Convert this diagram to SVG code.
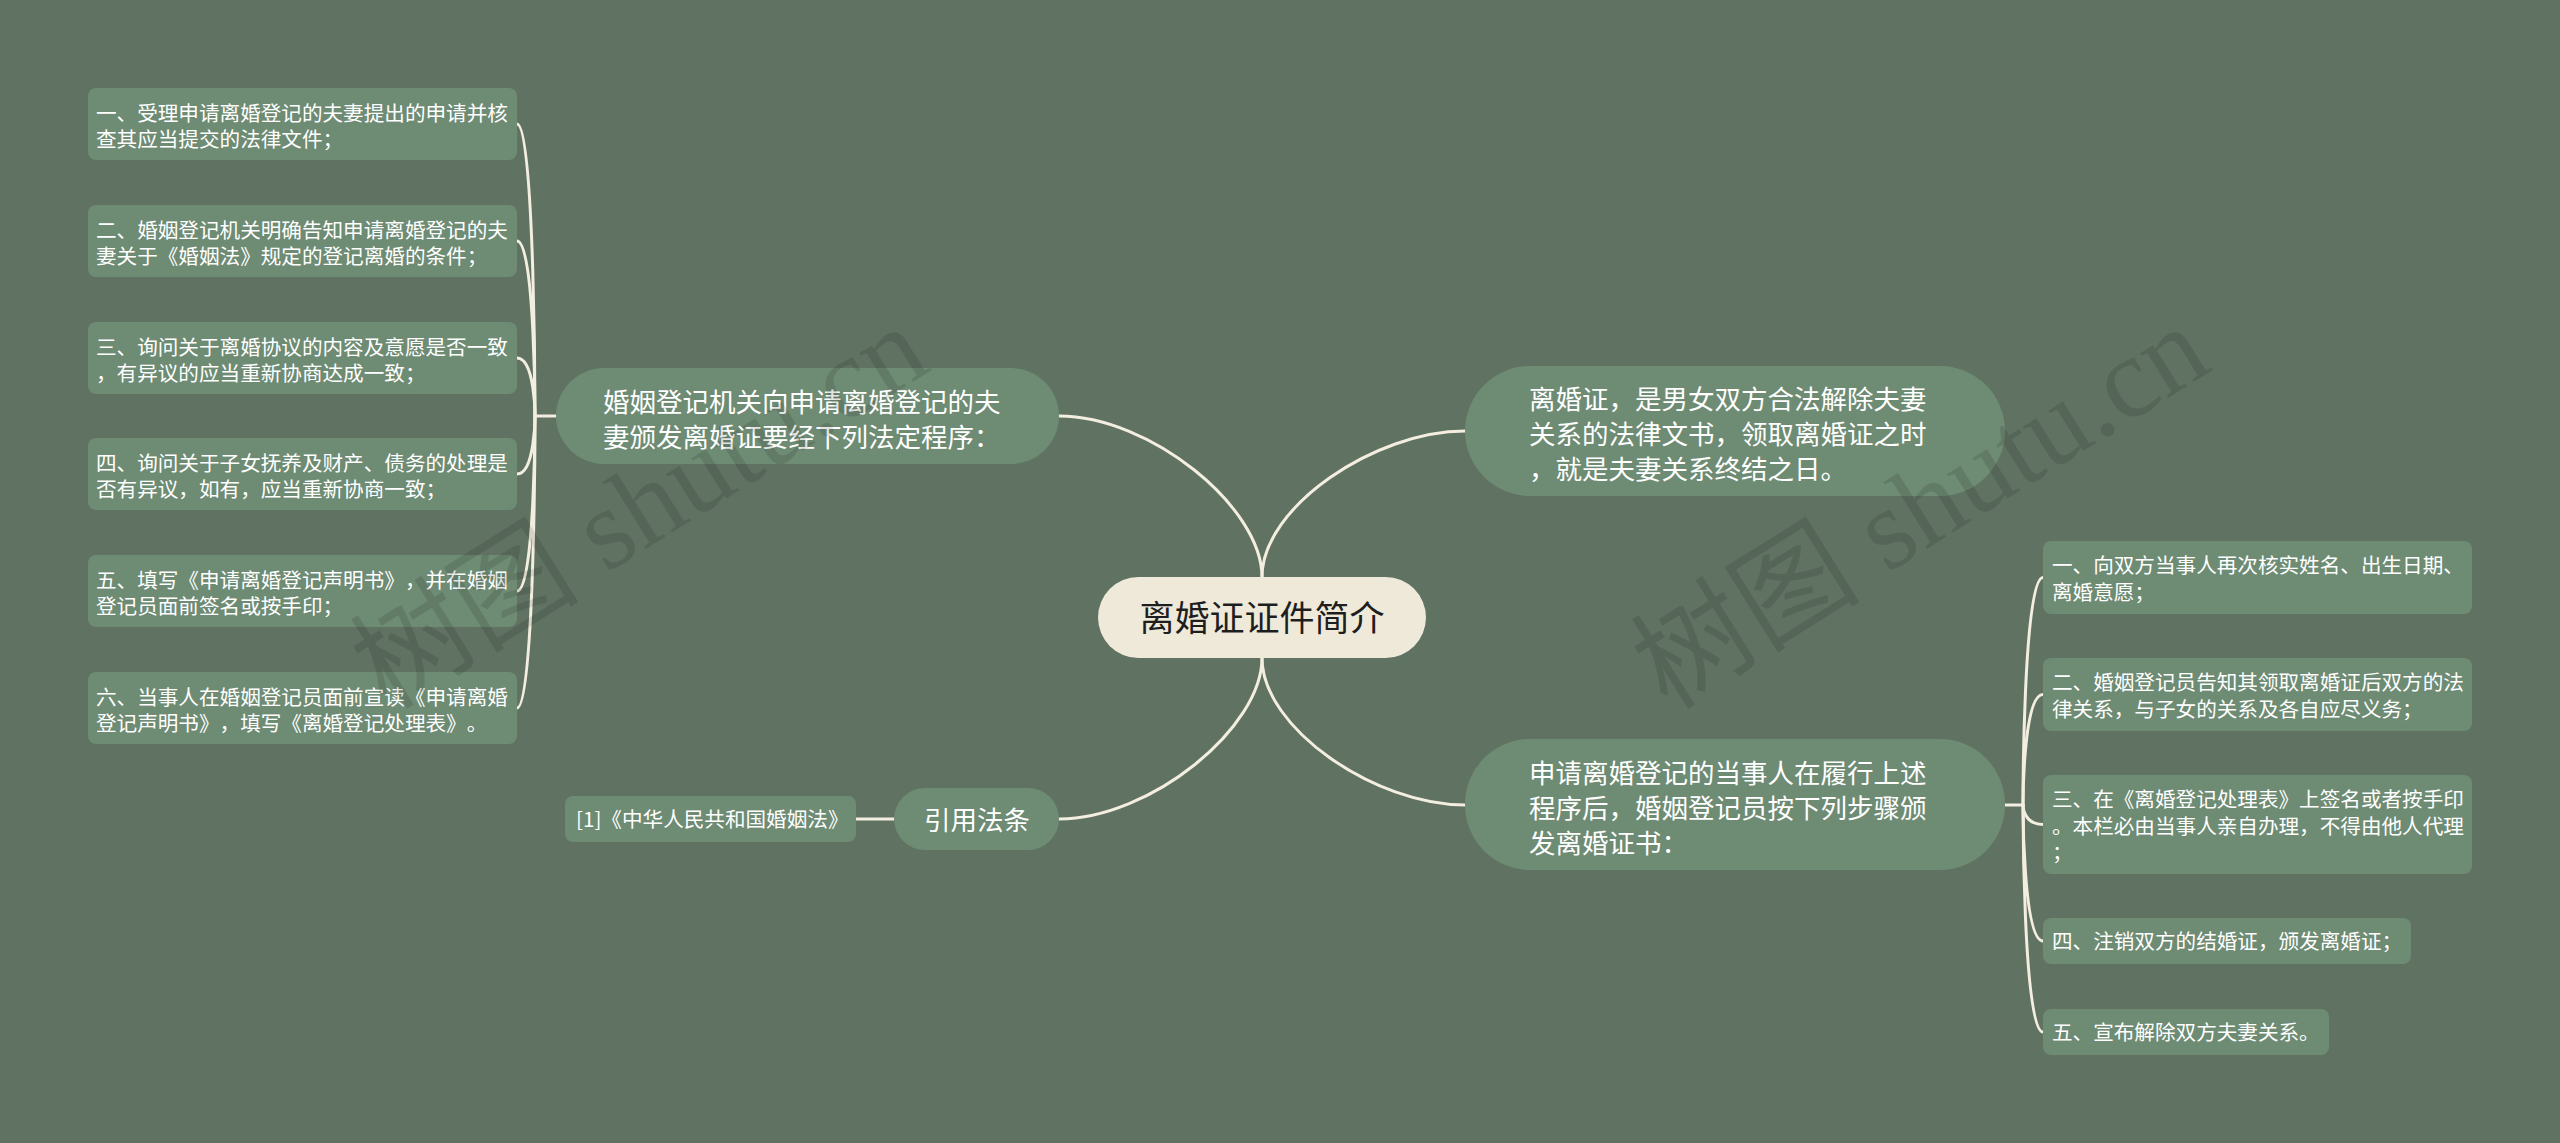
<svg xmlns="http://www.w3.org/2000/svg" width="2560" height="1143" viewBox="0 0 2560 1143">
<style>
.bg{fill:#607262}
.leaf{fill:#6e8b74}
.pill{fill:#6e8b74}
.root{fill:#efe9da}
.t{font-family:"Noto Sans CJK SC","Noto Sans",sans-serif;fill:#ffffff;text-spacing-trim:space-all}
.ts{font-size:20.6px}
.tb{font-size:26.5px}
.tr{font-family:"Noto Sans CJK SC","Noto Sans",sans-serif;font-size:35px;fill:#1e1e1e}
.c{fill:none;stroke:#f3eedf;stroke-width:3;stroke-linecap:round}
.wm{font-family:"Liberation Serif","Noto Sans CJK SC",serif;font-size:115px;fill:#000;fill-opacity:0.11}
</style>
<rect class="bg" x="0" y="0" width="2560" height="1143"/>

<g id="connectors">
<path class="c" d="M1262,577 C1262,507 1150,416 1059,416"/>
<path class="c" d="M1262,577 C1262,507 1375,431 1465,431"/>
<path class="c" d="M1262,658 C1262,728 1150,819 1059,819"/>
<path class="c" d="M1262,658 C1262,728 1375,805 1465,805"/>
<path class="c" d="M556,416 L535,416"/>
<path class="c" d="M517,124 C535,124 535,416 535,416"/>
<path class="c" d="M517,241 C535,241 535,416 535,416"/>
<path class="c" d="M517,358 C535,358 535,416 535,416"/>
<path class="c" d="M517,474 C535,474 535,416 535,416"/>
<path class="c" d="M517,591 C535,591 535,416 535,416"/>
<path class="c" d="M517,708 C535,708 535,416 535,416"/>
<path class="c" d="M894,819 L856,819"/>
<path class="c" d="M2005,805 L2023,805"/>
<path class="c" d="M2043,577.5 C2023,577.5 2023,805 2023,805"/>
<path class="c" d="M2043,694.5 C2023,694.5 2023,805 2023,805"/>
<path class="c" d="M2043,824.5 C2023,824.5 2023,805 2023,805"/>
<path class="c" d="M2043,941 C2023,941 2023,805 2023,805"/>
<path class="c" d="M2043,1032 C2023,1032 2023,805 2023,805"/>
</g>

<g id="root">
<rect class="root" x="1098" y="577" width="328" height="81" rx="40.5"/>
<text class="tr" x="1262" y="631" text-anchor="middle">离婚证证件简介</text>
</g>

<g id="branch-left">
<rect class="pill" x="556" y="368" width="503" height="96" rx="48"/>
<text class="t tb"><tspan x="603" y="412">婚姻登记机关向申请离婚登记的夫</tspan><tspan x="603" y="447">妻颁发离婚证要经下列法定程序：</tspan></text>
</g>

<g id="branch-right-1">
<rect class="pill" x="1465" y="366" width="540" height="130" rx="65"/>
<text class="t tb"><tspan x="1529" y="409">离婚证，是男女双方合法解除夫妻</tspan><tspan x="1529" y="444">关系的法律文书，领取离婚证之时</tspan><tspan x="1529" y="479">，就是夫妻关系终结之日。</tspan></text>
</g>

<g id="branch-right-2">
<rect class="pill" x="1465" y="739" width="540" height="131" rx="65"/>
<text class="t tb"><tspan x="1529" y="783">申请离婚登记的当事人在履行上述</tspan><tspan x="1529" y="818">程序后，婚姻登记员按下列步骤颁</tspan><tspan x="1529" y="853">发离婚证书：</tspan></text>
</g>

<g id="branch-cite">
<rect class="pill" x="894" y="788" width="165" height="62" rx="31"/>
<text class="t tb" x="977" y="830" text-anchor="middle">引用法条</text>
</g>

<g id="cite-1">
<rect class="leaf" x="565" y="796" width="291" height="46" rx="8"/>
<text class="t ts" x="576" y="827">[1]《中华人民共和国婚姻法》</text>
</g>

<g id="left-1">
<rect class="leaf" x="88" y="88" width="429" height="72" rx="8"/>
<text class="t ts"><tspan x="96" y="121">一、受理申请离婚登记的夫妻提出的申请并核</tspan><tspan x="96" y="147">查其应当提交的法律文件；</tspan></text>
</g>
<g id="left-2">
<rect class="leaf" x="88" y="205" width="429" height="72" rx="8"/>
<text class="t ts"><tspan x="96" y="238">二、婚姻登记机关明确告知申请离婚登记的夫</tspan><tspan x="96" y="264">妻关于《婚姻法》规定的登记离婚的条件；</tspan></text>
</g>
<g id="left-3">
<rect class="leaf" x="88" y="322" width="429" height="72" rx="8"/>
<text class="t ts"><tspan x="96" y="355">三、询问关于离婚协议的内容及意愿是否一致</tspan><tspan x="96" y="381">，有异议的应当重新协商达成一致；</tspan></text>
</g>
<g id="left-4">
<rect class="leaf" x="88" y="438" width="429" height="72" rx="8"/>
<text class="t ts"><tspan x="96" y="471">四、询问关于子女抚养及财产、债务的处理是</tspan><tspan x="96" y="497">否有异议，如有，应当重新协商一致；</tspan></text>
</g>
<g id="left-5">
<rect class="leaf" x="88" y="555" width="429" height="72" rx="8"/>
<text class="t ts"><tspan x="96" y="588">五、填写《申请离婚登记声明书》，并在婚姻</tspan><tspan x="96" y="614">登记员面前签名或按手印；</tspan></text>
</g>
<g id="left-6">
<rect class="leaf" x="88" y="672" width="429" height="72" rx="8"/>
<text class="t ts"><tspan x="96" y="705">六、当事人在婚姻登记员面前宣读《申请离婚</tspan><tspan x="96" y="731">登记声明书》，填写《离婚登记处理表》。</tspan></text>
</g>

<g id="right-1">
<rect class="leaf" x="2043" y="541" width="429" height="73" rx="8"/>
<text class="t ts"><tspan x="2052" y="573">一、向双方当事人再次核实姓名、出生日期、</tspan><tspan x="2052" y="599.5">离婚意愿；</tspan></text>
</g>
<g id="right-2">
<rect class="leaf" x="2043" y="658" width="429" height="73" rx="8"/>
<text class="t ts"><tspan x="2052" y="690">二、婚姻登记员告知其领取离婚证后双方的法</tspan><tspan x="2052" y="716.5">律关系，与子女的关系及各自应尽义务；</tspan></text>
</g>
<g id="right-3">
<rect class="leaf" x="2043" y="775" width="429" height="99" rx="8"/>
<text class="t ts"><tspan x="2052" y="807">三、在《离婚登记处理表》上签名或者按手印</tspan><tspan x="2052" y="833.5">。本栏必由当事人亲自办理，不得由他人代理</tspan><tspan x="2052" y="860">；</tspan></text>
</g>
<g id="right-4">
<rect class="leaf" x="2043" y="918" width="368" height="46" rx="8"/>
<text class="t ts" x="2052" y="949">四、注销双方的结婚证，颁发离婚证；</text>
</g>
<g id="right-5">
<rect class="leaf" x="2043" y="1009" width="286" height="46" rx="8"/>
<text class="t ts" x="2052" y="1040">五、宣布解除双方夫妻关系。</text>
</g>

<g id="watermark">
<text class="wm" transform="translate(660,540) rotate(-32)" text-anchor="middle">树图 shutu.cn</text>
<text class="wm" transform="translate(1941,540) rotate(-32)" text-anchor="middle">树图 shutu.cn</text>
</g>
</svg>
